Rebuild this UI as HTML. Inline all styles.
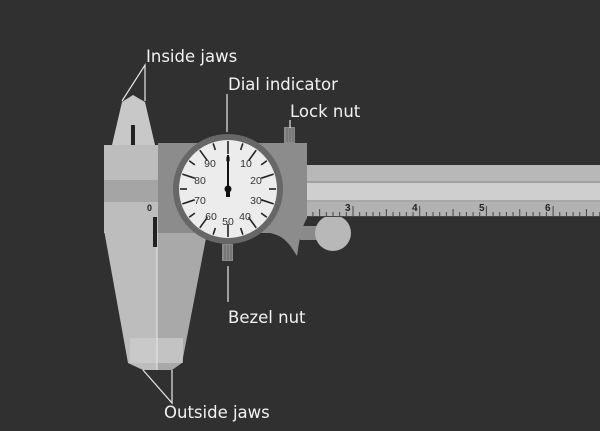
<!DOCTYPE html>
<html><head><style>body{margin:0;background:#303030}svg{display:block}</style></head><body>
<svg width="600" height="431" viewBox="0 0 600 431" xmlns="http://www.w3.org/2000/svg" font-family="Liberation Sans, DejaVu Sans, sans-serif">
<rect width="600" height="431" fill="#303030"/>
<!-- beam -->
<rect x="300" y="165" width="300" height="17" fill="#b8b8b8"/>
<rect x="300" y="181" width="300" height="2" fill="#a0a0a0"/>
<rect x="300" y="183" width="300" height="18" fill="#cfcfcf"/>
<rect x="300" y="200" width="300" height="2" fill="#a8a8a8"/>
<rect x="300" y="202" width="300" height="15" fill="#b2b2b2"/>
<g id="ticks"></g>
<!-- thumb wheel -->
<rect x="300" y="226" width="20" height="14" fill="#8a8a8a"/>
<circle cx="333" cy="233" r="18" fill="#b8b8b8"/>
<!-- lower jaws -->
<polygon points="104,230 157,230 157,370 143,370 128,363" fill="#bdbdbd"/>
<polygon points="157,230 207,233 182,363 172,370 157,370" fill="#a9a9a9"/>
<rect x="130" y="338" width="53" height="25" fill="#cfcfcf" opacity="0.7"/>
<line x1="157" y1="230" x2="157" y2="370" stroke="#e8e8e8" stroke-width="1"/>
<!-- inside jaw tip -->
<polygon points="112,145 122,102 133,95 145,102 155,145" fill="#c8c8c8"/>
<rect x="131" y="125" width="4" height="20" fill="#222"/>
<!-- fixed jaw body -->
<rect x="104" y="145" width="54" height="88" fill="#bdbdbd"/>
<rect x="104" y="180" width="54" height="22" fill="#a5a5a5"/>
<!-- slider -->
<path d="M158,143 H307 V218 C300,230 299,245 297,256 C290,245 285,236 270,233 H158 Z" fill="#8c8c8c"/>
<rect x="153" y="217" width="4" height="30" fill="#222"/>
<text x="147" y="211" font-size="9" fill="#222" font-weight="bold">0</text>
<!-- lock nut -->
<rect x="284" y="127" width="11" height="16" fill="#8a8a8a"/>
<g stroke="#666" stroke-width="1"><line x1="287" y1="128" x2="287" y2="142"/><line x1="290" y1="128" x2="290" y2="142"/><line x1="293" y1="128" x2="293" y2="142"/></g>
<!-- bezel nut -->
<rect x="222" y="244" width="11" height="17" fill="#8a8a8a"/>
<g stroke="#666" stroke-width="1"><line x1="225" y1="245" x2="225" y2="260"/><line x1="228" y1="245" x2="228" y2="260"/><line x1="231" y1="245" x2="231" y2="260"/></g>
<!-- dial -->
<circle cx="228" cy="189" r="55" fill="#676767"/>
<circle cx="228" cy="189" r="49" fill="#ececec"/>
<g id="dial" stroke="#222" stroke-width="1.6"></g>
<g font-size="10.5" fill="#333" text-anchor="middle">
<text x="228" y="162" font-size="8">0</text>
<text x="210" y="167">90</text><text x="246" y="167">10</text>
<text x="200" y="184">80</text><text x="256" y="184">20</text>
<text x="200" y="204">70</text><text x="256" y="204">30</text>
<text x="211" y="220">60</text><text x="245" y="220">40</text>
<text x="228" y="225">50</text>
</g>
<line x1="228" y1="189" x2="228" y2="155" stroke="#111" stroke-width="2"/>
<circle cx="228" cy="189" r="3.5" fill="#111"/>
<rect x="226" y="189" width="4" height="8" fill="#111"/>
<!-- scale labels -->
<g font-size="10" fill="#222" font-weight="bold"><text x="345" y="211">3</text><text x="412" y="211">4</text><text x="479" y="211">5</text><text x="545" y="211">6</text></g>
<!-- leader lines -->
<g stroke="#e8e8e8" stroke-width="1.2" fill="none">
<polyline points="122,101 145,65 145,101"/>
<line x1="227" y1="94" x2="227" y2="132"/>
<line x1="290" y1="120" x2="290" y2="128"/>
<line x1="228" y1="266" x2="228" y2="302"/>
<polyline points="143,370 172,403 172,370"/>
</g>
<g fill="#f2f2f2" font-size="16.5" font-family="DejaVu Sans, Liberation Sans, sans-serif">
<text x="146" y="62">Inside jaws</text>
<text x="228" y="90">Dial indicator</text>
<text x="290" y="117">Lock nut</text>
<text x="228" y="323">Bezel nut</text>
<text x="164" y="418">Outside jaws</text>
</g>
<g id="sc"></g>
</svg>
<script>
var ns="http://www.w3.org/2000/svg";
var d=document.getElementById("dial");
for(var i=0;i<20;i++){var a=i*18*Math.PI/180,L=(i%2==0)?13:7,r1=48,r2=48-L;
var l=document.createElementNS(ns,"line");
l.setAttribute("x1",228+r1*Math.sin(a));l.setAttribute("y1",189-r1*Math.cos(a));
l.setAttribute("x2",228+r2*Math.sin(a));l.setAttribute("y2",189-r2*Math.cos(a));d.appendChild(l);}
var s=document.getElementById("sc");
for(var k=-8;k<=40;k++){var x=353+k*6.67;if(x<308||x>600)continue;
var m=((k%10)+10)%10,h=(m==0)?10:(m==5?7:4);
var l=document.createElementNS(ns,"line");
l.setAttribute("x1",x);l.setAttribute("x2",x);l.setAttribute("y1",216-h);l.setAttribute("y2",216);
l.setAttribute("stroke","#444");l.setAttribute("stroke-width","1");s.appendChild(l);}
var b=document.createElementNS(ns,"line");b.setAttribute("x1",307);b.setAttribute("x2",600);b.setAttribute("y1",216.5);b.setAttribute("y2",216.5);b.setAttribute("stroke","#444");s.appendChild(b);
</script>
</body></html>
